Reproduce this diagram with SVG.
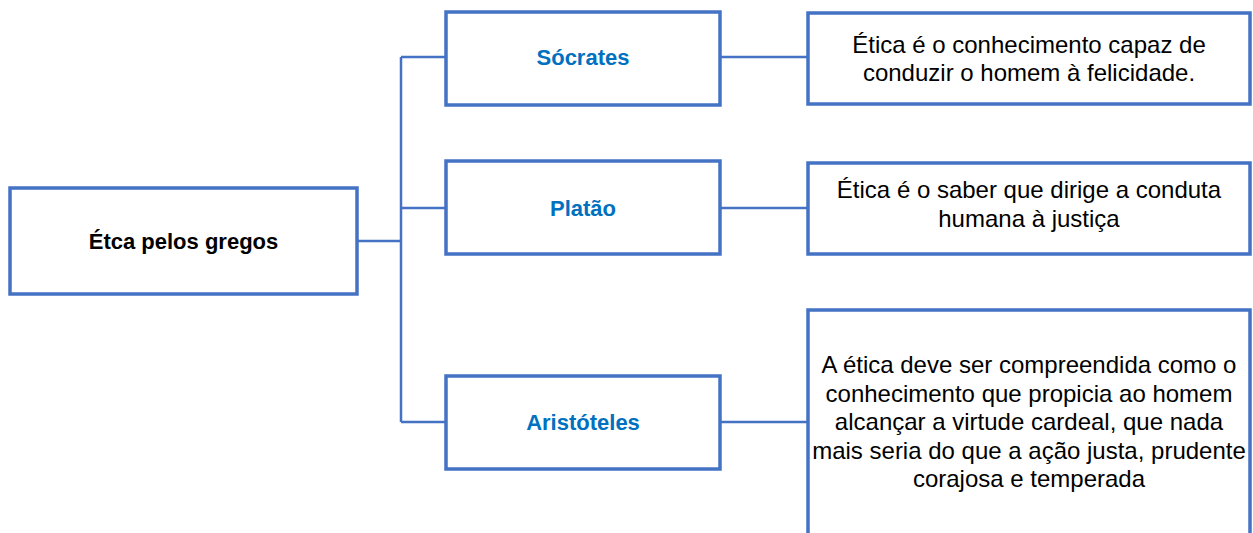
<svg xmlns="http://www.w3.org/2000/svg" width="1253" height="533" viewBox="0 0 1253 533">
<style>
.box{fill:#fff;stroke:#4472C4;stroke-width:3.5}
.conn{fill:none;stroke:#4472C4;stroke-width:2.5}
.root{font-family:"Liberation Sans",Arial,sans-serif;font-size:22px;font-weight:bold;fill:#000;text-anchor:middle}
.name{font-family:"Liberation Sans",Arial,sans-serif;font-size:22px;font-weight:bold;fill:#0070C0;text-anchor:middle}
.desc{font-family:"Liberation Sans",Arial,sans-serif;font-size:24px;fill:#000;text-anchor:middle}
</style>
<rect width="1253" height="533" fill="#fff"/>
<g id="connectors">
<path class="conn" d="M357 241H401M401 57V422M401 57H446M401 208H446M401 422H446"/>
<path class="conn" d="M720 57H808M720 208H808M720 422H808"/>
</g>
<g id="root">
<rect class="box" x="10" y="188" width="347" height="106"/>
<text class="root" x="183.5" y="249">Étca pelos gregos</text>
</g>
<g id="socrates">
<rect class="box" x="446" y="12" width="274" height="93"/>
<text class="name" x="583" y="65">Sócrates</text>
</g>
<g id="platao">
<rect class="box" x="446" y="161" width="274" height="93"/>
<text class="name" x="583" y="216">Platão</text>
</g>
<g id="aristoteles">
<rect class="box" x="446" y="376" width="274" height="93"/>
<text class="name" x="583" y="430">Aristóteles</text>
</g>
<g id="socrates-desc">
<rect class="box" x="808" y="13" width="442" height="91"/>
<text class="desc" x="1029" y="53">Ética é o conhecimento capaz de</text>
<text class="desc" x="1029" y="81">conduzir o homem à felicidade.</text>
</g>
<g id="platao-desc">
<rect class="box" x="808" y="163" width="442" height="91"/>
<text class="desc" x="1029" y="198">Ética é o saber que dirige a conduta</text>
<text class="desc" x="1029" y="227">humana à justiça</text>
</g>
<g id="aristoteles-desc">
<rect class="box" x="808" y="310" width="442" height="240"/>
<text class="desc" x="1029" y="373">A ética deve ser compreendida como o</text>
<text class="desc" x="1029" y="402">conhecimento que propicia ao homem</text>
<text class="desc" x="1029" y="430">alcançar a virtude cardeal, que nada</text>
<text class="desc" x="1029" y="459">mais seria do que a ação justa, prudente</text>
<text class="desc" x="1029" y="487">corajosa e temperada</text>
</g>
</svg>
